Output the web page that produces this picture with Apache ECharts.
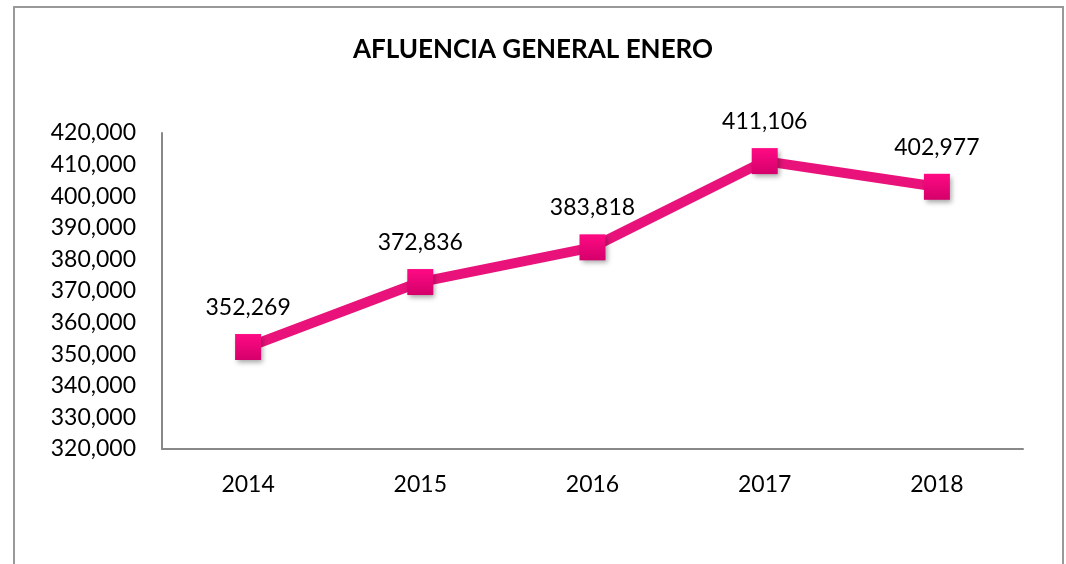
<!DOCTYPE html>
<html>
<head>
<meta charset="utf-8">
<script src="https://cdn.jsdelivr.net/npm/echarts@6/dist/echarts.min.js"></script>
<style>
html,body{margin:0;padding:0;background:#fff;}
#chart{width:1066px;height:564px;}
</style>
</head>
<body>
<div id="chart"></div>
<script>
const title = 'AFLUENCIA GENERAL ENERO';
const categories = ['2014', '2015', '2016', '2017', '2018'];
const values = [352269, 372836, 383818, 411106, 402977];
const yTicks = { min: 320000, max: 420000, interval: 10000 };

const chart = echarts.init(document.getElementById('chart'));
const fmt = v => v.toLocaleString('en-US');
const font = 'Lato, "Open Sans", sans-serif';

chart.setOption({
  backgroundColor: '#fff',
  animation: false,
  title: {
    text: title,
    left: 'center',
    top: 32,
    textStyle: { fontFamily: font, fontWeight: 'bold', fontSize: 26, color: '#000' }
  },
  graphic: [{
    type: 'rect',
    shape: { x: 14, y: 7, width: 1049, height: 600 },
    style: { fill: 'none', stroke: '#999', lineWidth: 2 },
    silent: true
  }],
  grid: { left: 162, right: 43, top: 133, bottom: 115, containLabel: false },
  xAxis: {
    type: 'category',
    data: categories,
    boundaryGap: true,
    axisLine: { lineStyle: { color: '#888', width: 2 } },
    axisTick: { show: false },
    axisLabel: { color: '#000', fontFamily: font, fontSize: 23, margin: 24 }
  },
  yAxis: {
    type: 'value',
    min: yTicks.min,
    max: yTicks.max,
    interval: yTicks.interval,
    axisLine: { show: true, lineStyle: { color: '#888', width: 2 } },
    axisTick: { show: false },
    splitLine: { show: false },
    axisLabel: { color: '#000', fontFamily: font, fontSize: 23, margin: 26, formatter: fmt }
  },
  series: [{
    type: 'line',
    data: values,
    symbol: 'rect',
    symbolSize: 26,
    lineStyle: { color: '#E8127A', width: 10 },
    itemStyle: {
      color: new echarts.graphic.LinearGradient(0, 0, 0, 1, [
        { offset: 0, color: '#FF0A84' },
        { offset: 1, color: '#D4006A' }
      ]),
      shadowColor: 'rgba(0,0,0,0.35)',
      shadowBlur: 5,
      shadowOffsetX: 2,
      shadowOffsetY: 3
    },
    label: {
      show: true,
      position: 'top',
      distance: 15,
      color: '#000',
      fontFamily: font,
      fontSize: 23,
      formatter: p => fmt(p.value)
    }
  }]
});
</script>
</body>
</html>
